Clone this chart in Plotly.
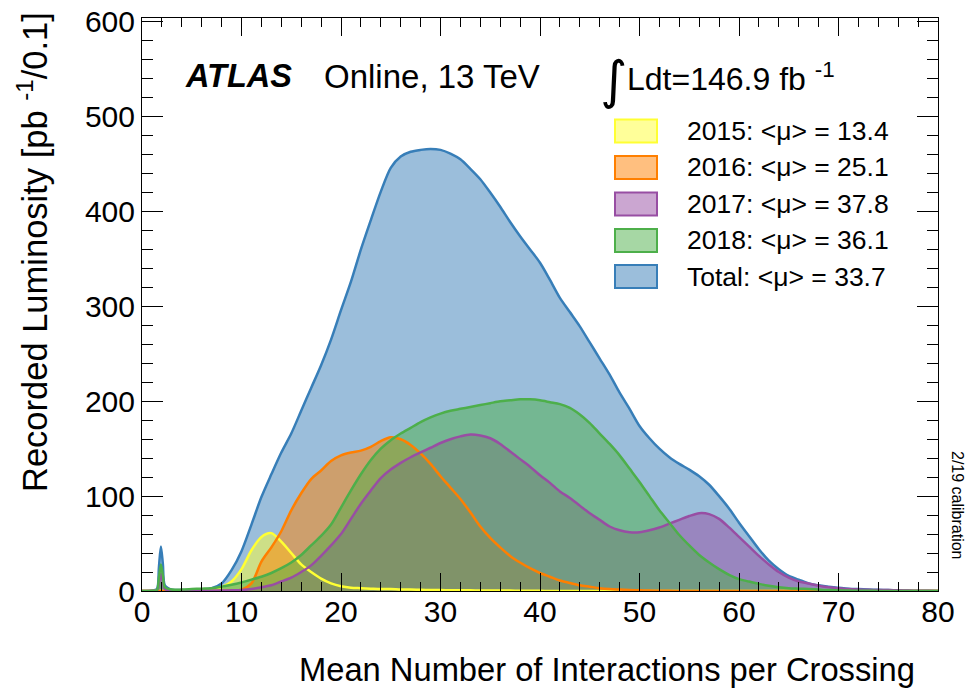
import plotly.graph_objects as go

# ---------------- data ----------------
mu = [0, 1, 1.5, 1.7, 1.9, 2.1, 2.3] + list(range(3, 81))

lumi_total = [0, 0.3, 2, 25, 47, 28, 6,
              1.5, 1, 1, 1.5, 3, 8, 22, 42, 70, 99, 123, 146, 166, 190, 214, 238, 265, 296, 326, 360, 391, 421, 446,
              458, 463, 465, 466, 465, 461, 455, 445, 434, 420, 405, 389, 374, 360, 346, 328, 309, 294, 279, 262,
              245, 228, 209, 192, 174, 161, 150, 141, 134, 128, 121, 112, 100, 87, 72, 58, 44, 32, 23, 16,
              12, 8, 6, 4.5, 3.5, 2.5, 2, 1.5, 1.2, 1, 0.8, 0.5, 0.3, 0.2, 0.1]

lumi_2015 = [0, 0, 0, 0, 0.3, 0, 0,
             0, 0, 0, 0, 1, 4, 10, 23, 43, 57, 61, 52, 40, 28, 20, 13, 8, 5, 3.5, 3, 2.5, 2, 2,
             1.5, 1.5, 1.2, 1, 1, 0.8, 0.8, 0.7, 0.6, 0.5, 0.5, 0.4, 0.3, 0.3, 0.2, 0, 0, 0, 0, 0,
             0, 0, 0, 0, 0, 0, 0, 0, 0, 0, 0, 0, 0, 0, 0, 0, 0, 0, 0, 0,
             0, 0, 0, 0, 0, 0, 0, 0, 0, 0, 0, 0, 0, 0, 0]

lumi_2016 = [0, 0, 0, 0, 0, 0, 0,
             0, 0, 0, 0, 0, 0, 0.5, 1.5, 8, 31, 46, 63, 85, 103, 118, 127, 137, 143, 146, 148, 152, 158, 162,
             160, 154, 145, 134, 121, 109, 97, 83, 68, 56, 46, 37, 30, 24, 19, 15, 11, 8.5, 6, 4.5,
             3, 2, 1.5, 1, 0.7, 0.5, 0.3, 0.2, 0, 0, 0, 0, 0, 0, 0, 0, 0, 0, 0, 0,
             0, 0, 0, 0, 0, 0, 0, 0, 0, 0, 0, 0, 0, 0, 0]

lumi_2017 = [0, 0.2, 0.5, 8, 18, 10, 2,
             0.5, 0.5, 0.5, 0.5, 0.5, 0.5, 0.7, 1, 2, 4, 6, 10, 14, 20, 27, 37, 48, 60, 76, 92, 106, 119, 128,
             135, 141, 146, 151, 156, 160, 163, 165, 164, 161, 155, 147, 139, 131, 122, 114, 105, 98, 90, 82,
             75, 68, 64, 62, 62, 64, 67, 71, 75, 79, 82, 81, 76, 67, 57, 47, 37, 28, 20, 14,
             10, 8, 5.5, 4, 3, 2, 1.5, 1.2, 1, 1, 0.8, 0.5, 0.3, 0.2, 0.1]

lumi_2018 = [0, 0.3, 1, 14, 28, 16, 4,
             1.5, 1.5, 2, 2.5, 3, 4.5, 6.5, 9, 12, 15, 19, 24, 30, 38, 48, 58, 70, 88, 106, 123, 138, 150, 159,
             166, 172, 178, 183, 187, 190, 192, 194, 196, 198, 200, 201, 202, 202, 201, 199, 197, 193, 186, 177,
             166, 155, 143, 129, 115, 100, 85, 72, 59, 48, 38, 30, 23, 17, 12.5, 10, 7.5, 5.5, 4, 3,
             2.5, 2, 1.5, 1, 0.8, 0.5, 0.3, 0.2, 0.1, 0.1, 0, 0, 0, 0, 0]

legend_labels = ["2015: <μ> = 13.4", "2016: <μ> = 25.1", "2017: <μ> = 37.8",
                 "2018: <μ> = 36.1", "Total: <μ> = 33.7"]
x_ticks = list(range(0, 81, 10))
y_ticks = list(range(0, 601, 100))

# ---------------- styling ----------------
FONT = "Liberation Sans, Arial, Helvetica, sans-serif"
W, H = 969, 688
L, R, T, B = 142, 31, 18, 97
PW, PH = W - L - R, H - T - B

colors = {"total": "#377eb8", "2015": "#ffff33", "2016": "#ff7f00",
          "2017": "#984ea3", "2018": "#4daf4a"}


def rgba(hexc, a):
    hexc = hexc.lstrip("#")
    r, g, b = int(hexc[0:2], 16), int(hexc[2:4], 16), int(hexc[4:6], 16)
    return f"rgba({r},{g},{b},{a})"


def px(xp):
    return (xp - L) / PW


def py(yp):
    return (H - B - yp) / PH


fig = go.Figure()
series = [("total", lumi_total), ("2015", lumi_2015), ("2016", lumi_2016),
          ("2017", lumi_2017), ("2018", lumi_2018)]
# fills first
for key, vals in series:
    fig.add_trace(go.Scatter(
        x=mu, y=vals, mode="lines",
        line=dict(color="rgba(0,0,0,0)", width=0, shape="spline", smoothing=0.8),
        fill="tozeroy", fillcolor=rgba(colors[key], 0.5),
        showlegend=False, hoverinfo="skip"))
# outlines on top
for key, vals in series:
    fig.add_trace(go.Scatter(
        x=mu, y=vals, mode="lines",
        line=dict(color=colors[key], width=2.5, shape="spline", smoothing=0.8),
        showlegend=False, hoverinfo="skip"))

axis_common = dict(
    showline=True, linecolor="black", linewidth=1, mirror="allticks",
    ticks="inside", tickcolor="black", tickwidth=1,
    showgrid=False, zeroline=False, automargin=False,
    tickfont=dict(family=FONT, size=30, color="black"),
)
fig.update_xaxes(range=[0, 80], tickvals=x_ticks, ticklen=18,
                 minor=dict(dtick=2, ticks="inside", ticklen=9, tickcolor="black", showgrid=False),
                 ticklabelstandoff=-6,
                 **axis_common)
fig.update_yaxes(range=[0, 604], tickvals=y_ticks, ticklen=21,
                 minor=dict(dtick=20, ticks="inside", ticklen=11, tickcolor="black", showgrid=False),
                 ticklabelstandoff=0,
                 **axis_common)

ann = []
# axis titles
ann.append(dict(text="Mean Number of Interactions per Crossing", x=px(917), y=py(669),
                xanchor="right", yanchor="middle", font=dict(family=FONT, size=32.7)))
ann.append(dict(text="Recorded Luminosity [pb <sup>-1</sup>/0.1]", x=px(33), y=py(10),
                xanchor="center", yanchor="top", textangle=-90, font=dict(family=FONT, size=34.5)))
# ATLAS label
ann.append(dict(text="<b><i>ATLAS</i></b>", x=px(183), y=py(76), xanchor="left", yanchor="middle",
                font=dict(family=FONT, size=32.5)))
ann.append(dict(text="Online, 13 TeV", x=px(322), y=py(76), xanchor="left", yanchor="middle",
                font=dict(family=FONT, size=33)))
# integrated luminosity
ann.append(dict(text="∫", x=px(613), y=py(80), xanchor="center", yanchor="middle",
                font=dict(family="DejaVu Sans", size=52)))
ann.append(dict(text="Ldt=146.9 fb <sup>-1</sup>", x=px(625), y=py(77), xanchor="left", yanchor="middle",
                font=dict(family=FONT, size=32)))
# calibration note
ann.append(dict(text="2/19 calibration", x=px(958), y=py(505), xanchor="center", yanchor="middle",
                textangle=90, font=dict(family=FONT, size=16)))

# manual legend
shapes = []
row_y = [131, 167.5, 204, 240.5, 276.5]
legend_keys = ["2015", "2016", "2017", "2018", "total"]
for key, lab, yc in zip(legend_keys, legend_labels, row_y):
    shapes.append(dict(type="rect", xref="paper", yref="paper",
                       x0=px(615), x1=px(657), y0=py(yc + 11.5), y1=py(yc - 11.5),
                       fillcolor=rgba(colors[key], 0.5),
                       line=dict(color=colors[key], width=2)))
    ann.append(dict(text=lab, x=px(685), y=py(yc), xanchor="left", yanchor="middle",
                    font=dict(family=FONT, size=26.5)))

for a in ann:
    a.setdefault("xref", "paper")
    a.setdefault("yref", "paper")
    a["showarrow"] = False
    a["font"].setdefault("color", "black")

fig.update_layout(
    width=W, height=H,
    margin=dict(l=L, r=R, t=T, b=B, pad=0, autoexpand=False),
    paper_bgcolor="white", plot_bgcolor="white",
    annotations=ann, shapes=shapes,
    showlegend=False,
)

fig.write_html("out.html", config={"displayModeBar": False, "staticPlot": True},
               post_script="document.body.style.margin='0px';document.body.style.overflow='hidden';")
